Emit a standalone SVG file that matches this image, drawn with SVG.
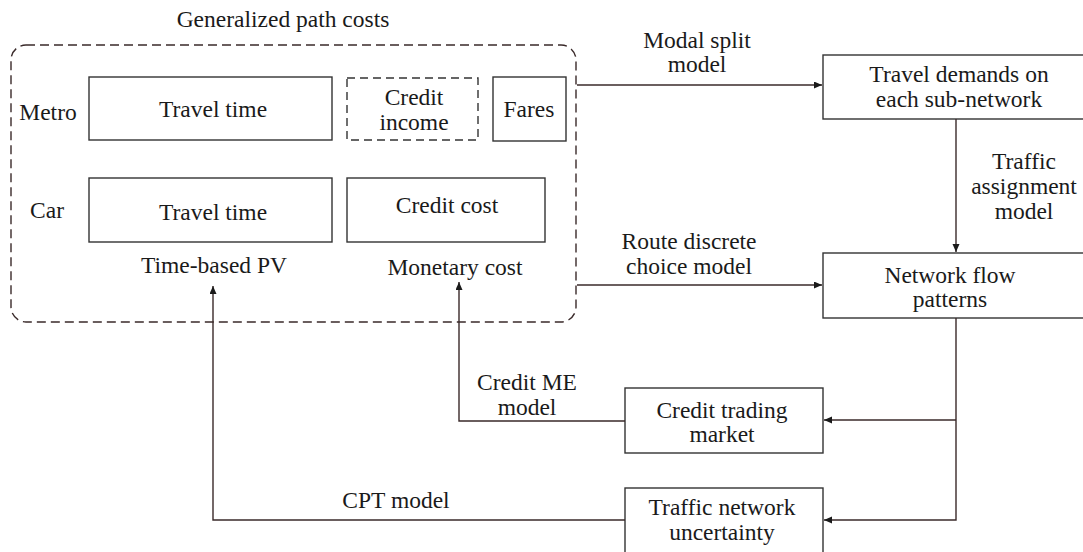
<svg xmlns="http://www.w3.org/2000/svg" width="1083" height="552" viewBox="0 0 1083 552">
<style>
text{font-family:"Liberation Serif","Times New Roman",serif;font-size:23.5px;fill:#1a1a1a;text-anchor:middle}
.box{fill:#fff;stroke:#333;stroke-width:1.4}
.dbox{fill:#fff;stroke:#333;stroke-width:1.4;stroke-dasharray:8 5}
.outer{fill:none;stroke:#3a2a2a;stroke-width:1.4;stroke-dasharray:9 5}
.con{fill:none;stroke:#3a2a2a;stroke-width:1.4}
</style>
<defs>
<marker id="ah" markerUnits="userSpaceOnUse" markerWidth="9" markerHeight="8" refX="8" refY="3.5" orient="auto">
<path d="M0,0 L8,3.5 L0,7 z" fill="#1a1a1a"/>
</marker>
</defs>
<rect fill="#fff" x="0" y="0" width="1083" height="552"/>
<g id="group-generalized">
<text x="283" y="27">Generalized path costs</text>
<rect class="outer" x="11" y="45" width="565" height="277" rx="15" ry="15"/>
<text x="48" y="120">Metro</text>
<text x="47" y="218">Car</text>
<text x="214" y="273">Time-based PV</text>
<text x="455" y="275">Monetary cost</text>
</g>
<g id="metro-travel-time"><rect class="box" x="89" y="77" width="243" height="63"/><text x="213" y="117">Travel time</text></g>
<g id="credit-income"><rect class="dbox" x="347" y="78" width="131" height="62"/><text x="414" y="105">Credit</text><text x="414" y="130">income</text></g>
<g id="fares"><rect class="box" x="493" y="77" width="73" height="64"/><text x="529" y="117">Fares</text></g>
<g id="car-travel-time"><rect class="box" x="89" y="178" width="243" height="64"/><text x="213" y="220">Travel time</text></g>
<g id="credit-cost"><rect class="box" x="347" y="178" width="198" height="64"/><text x="447" y="213">Credit cost</text></g>
<g id="travel-demands"><rect class="box" x="823" y="55" width="270" height="64"/><text x="959" y="82">Travel demands on</text><text x="959" y="107">each sub-network</text></g>
<g id="network-flow"><rect class="box" x="823" y="253" width="270" height="65"/><text x="950" y="283">Network flow</text><text x="950" y="307">patterns</text></g>
<g id="credit-trading"><rect class="box" x="625" y="388" width="198" height="65"/><text x="722" y="418">Credit trading</text><text x="722" y="442">market</text></g>
<g id="traffic-uncertainty"><rect class="box" x="625" y="488" width="198" height="80"/><text x="722" y="515">Traffic network</text><text x="722" y="540">uncertainty</text></g>
<g id="connectors">
<path class="con" d="M577,85 H822" marker-end="url(#ah)"/>
<path class="con" d="M577,285 H822" marker-end="url(#ah)"/>
<path class="con" d="M956,119 V252" marker-end="url(#ah)"/>
<path class="con" d="M956,318 V520 H824" marker-end="url(#ah)"/>
<path class="con" d="M956,420 H824" marker-end="url(#ah)"/>
<path class="con" d="M625,421 H459 V282" marker-end="url(#ah)"/>
<path class="con" d="M625,520 H213 V286" marker-end="url(#ah)"/>
<text x="697" y="48">Modal split</text>
<text x="697" y="72">model</text>
<text x="689" y="249">Route discrete</text>
<text x="689" y="274">choice model</text>
<text x="1024" y="169">Traffic</text>
<text x="1024" y="194">assignment</text>
<text x="1024" y="219">model</text>
<text x="527" y="390">Credit ME</text>
<text x="527" y="415">model</text>
<text x="396" y="508">CPT model</text>
</g>
</svg>
